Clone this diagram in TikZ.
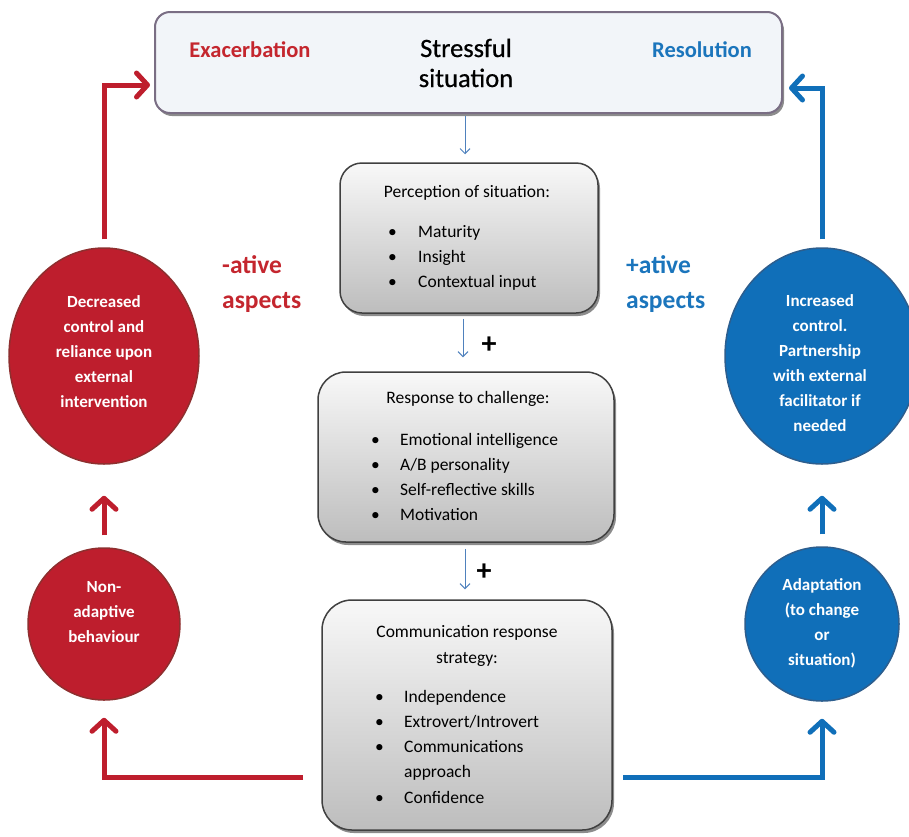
\documentclass[tikz,border=0pt]{standalone}
\usepackage{fontspec}
\setmainfont{Carlito}
\newfontfamily\semibfont[FakeBold=0.6]{Carlito}
\usetikzlibrary{arrows.meta,shadows,shapes.geometric,calc}
\definecolor{rfill}{HTML}{BE1E2D}
\definecolor{rborder}{HTML}{8E2F2F}
\definecolor{bfill}{HTML}{106FB9}
\definecolor{bborder}{HTML}{2D5E8E}
\definecolor{rtext}{HTML}{C4262E}
\definecolor{btext}{HTML}{1B75BC}
\definecolor{thinblue}{HTML}{4F81BD}
\definecolor{gtop}{HTML}{F8F8F8}
\definecolor{gbot}{HTML}{BDBDBD}
\definecolor{boxborder}{HTML}{404040}
\definecolor{topfill}{HTML}{F2F5F9}
\definecolor{topborder}{HTML}{7A6E84}
\tikzset{
  gbox/.style={draw=boxborder, line width=1.5pt, top color=gtop, bottom color=gbot,
    rounded corners=#1, inner sep=0pt,
    drop shadow={shadow xshift=2pt, shadow yshift=-3pt, opacity=0.6, fill=black!75}},
  topbox/.style={draw=topborder, line width=2pt, fill=topfill, rounded corners=15pt, inner sep=0pt,
    drop shadow={shadow xshift=2pt, shadow yshift=-3pt, opacity=0.6, fill=black!75}},
  redshape/.style={fill=rfill, draw=rborder, line width=1.5pt, inner sep=0pt},
  blueshape/.style={fill=bfill, draw=bborder, line width=1.5pt, inner sep=0pt},
  etext/.style={text=white, font=\bfseries\fontsize{17}{25}\selectfont, align=center, inner sep=0pt},
  btitle/.style={font=\fontsize{17.5}{25.5}\selectfont, anchor=base, inner sep=0pt, align=center},
  blist/.style={font=\fontsize{17.5}{25.3}\selectfont, anchor=base west, inner sep=0pt},
  thinarr/.style={draw=thinblue, line width=1pt, -{Straight Barb[length=5pt,width=10pt]}},
  redarr/.style={draw=rfill, line width=5pt, -{Straight Barb[length=11pt,width=24pt,round]}},
  bluearr/.style={draw=bfill, line width=5pt, -{Straight Barb[length=11pt,width=24pt,round]}},
  bigword/.style={font=\bfseries\fontsize{25.5}{35}\selectfont, anchor=base west, inner sep=0pt, align=left},
  plussign/.style={font=\bfseries\fontsize{30}{30}\selectfont, inner sep=0pt},
}
\newcommand{\bul}[1]{\makebox[#1][l]{\textbullet}}
\begin{document}
\begin{tikzpicture}[x=1pt,y=-1pt]
\useasboundingbox (0,0) rectangle (909,836);

% top box
\node[topbox, minimum width=627pt, minimum height=101pt] (top) at (468.5,62.5) {};
\node[font=\bfseries\fontsize{22.5}{29}\selectfont, text=rtext, anchor=base, inner sep=0pt] (exac) at (250,57) {Exacerbation};
\node[font=\bfseries\fontsize{22.5}{29}\selectfont, text=btext, anchor=base, inner sep=0pt] (reso) at (702,57) {Resolution};
\node[font=\semibfont\fontsize{26.5}{30}\selectfont, anchor=base, inner sep=0pt, align=center] (stress) at (466,87) {Stressful\\situation};

% central boxes
\node[gbox=22pt, minimum width=258pt, minimum height=150pt] (perc) at (469,238) {};
\node[btitle] (perct) at (467,197) {Perception of situation:};
\node[blist] (percl) at (388,237) {\begin{tabular}[t]{@{}l@{}}\bul{30pt}Maturity\\\bul{30pt}Insight\\\bul{30pt}Contextual input\end{tabular}};

\node[gbox=28pt, minimum width=296pt, minimum height=170pt] (resp) at (466,457) {};
\node[btitle] (respt) at (468,403) {Response to challenge:};
\node[blist] (respl) at (371,445) {\begin{tabular}[t]{@{}l@{}}\bul{29pt}Emotional intelligence\\\bul{29pt}A/B personality\\\bul{29pt}Self-reflective skills\\\bul{29pt}Motivation\end{tabular}};

\node[gbox=30pt, minimum width=290pt, minimum height=230pt] (comm) at (467,715) {};
\node[btitle] (commt) at (467,663) {Communication response\\strategy:};
\node[blist] (comml) at (375,702) {\begin{tabular}[t]{@{}l@{}}\bul{29pt}Independence\\\bul{29pt}Extrovert/Introvert\\\bul{29pt}Communications\\\hspace*{29pt}approach\\\bul{29pt}Confidence\end{tabular}};

% thin arrows
\draw[thinarr, shorten <=2pt, shorten >=8pt] ([xshift=-4pt]perc.north |- top.south) -- ([xshift=-4pt]perc.north);
\draw[thinarr, shorten <=5pt, shorten >=14pt] ([xshift=-6pt]perc.south) -- ([xshift=-6pt]perc.south |- resp.north);
\draw[thinarr, shorten <=6pt, shorten >=10pt] ([xshift=-1pt]resp.south) -- ([xshift=-1pt]resp.south |- comm.north);
\node[plussign] (plus1) at (489,345) {+};
\node[plussign] (plus2) at (484,572) {+};

% left side
\node[ellipse, redshape, minimum width=190pt, minimum height=216pt] (decr) at (104,356) {};
\node[etext] (decrt) at (104,352) {Decreased\\control and\\reliance upon\\external\\intervention};
\node[circle, redshape, minimum size=152pt] (nonad) at (104,624) {};
\node[etext] (nonadt) at (104,612) {Non-\\adaptive\\behaviour};

% right side
\node[ellipse, blueshape, minimum width=194pt, minimum height=216pt] (incr) at (822,356) {};
\node[etext] (incrt) at (820,363) {Increased\\control.\\Partnership\\with external\\facilitator if\\needed};
\node[circle, blueshape, minimum size=154pt] (adapt) at (822,624) {};
\node[etext] (adaptt) at (822,623) {Adaptation\\(to change\\or\\situation)};

% side words
\node[bigword, text=rtext] (neg) at (222,308) {-ative\\aspects};
\node[bigword, text=btext] (pos) at (626,308) {+ative\\aspects};

% thick arrows
\coordinate (lb) at (303,777);
\coordinate (rb) at (623,777);
\coordinate (tl) at (150,85);
\coordinate (tr) at (789,88);
\draw[redarr, shorten >=17pt] (lb) -| (nonad);
\draw[redarr, shorten <=12pt, shorten >=31pt] (nonad) -- (decr);
\draw[redarr, shorten <=8pt] (decr) |- (tl);
\draw[bluearr, shorten >=17pt] (rb) -| (adapt);
\draw[bluearr, shorten <=12pt, shorten >=31pt] (adapt) -- (incr);
\draw[bluearr, shorten <=8pt] (incr) |- (tr);
\end{tikzpicture}
\end{document}
